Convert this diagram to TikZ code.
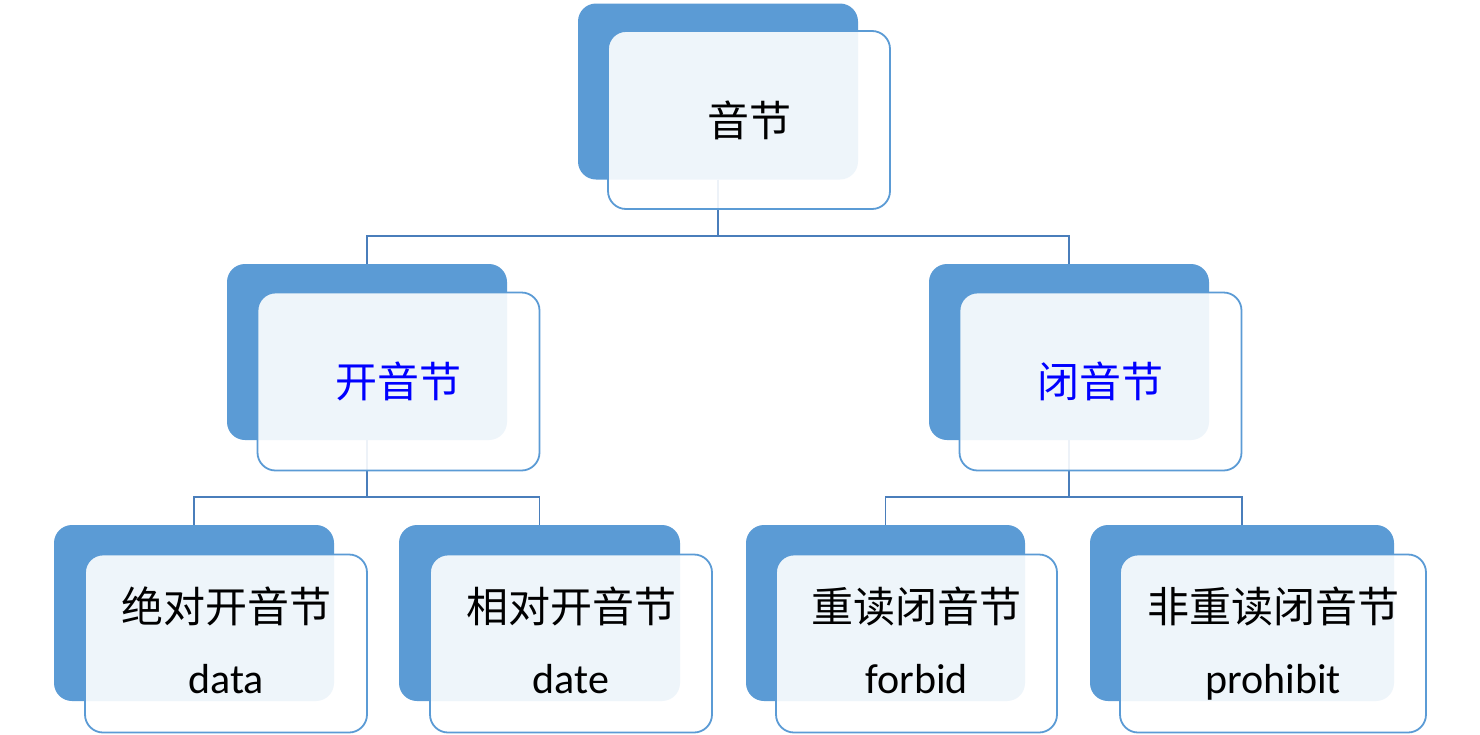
\documentclass[tikz,border=0pt]{standalone}
\usepackage{fontspec}
\setmainfont{Carlito}
\newfontfamily\cjk{Noto Sans CJK SC}
\definecolor{darkfill}{RGB}{91,155,213}
\definecolor{boxedge}{RGB}{91,155,213}
\definecolor{connc}{RGB}{74,126,187}
\definecolor{txtblue}{RGB}{0,0,255}
\tikzset{
  darkbox/.style={rectangle, rounded corners=18pt, fill=darkfill, draw=none,
    minimum width=280pt, minimum height=176pt, inner sep=0pt},
  lightbox/.style={rectangle, rounded corners=18pt, fill=white, fill opacity=0.9,
    text opacity=1, draw=boxedge, line width=1.8pt, draw opacity=1,
    minimum width=282pt, minimum height=178pt, inner sep=0pt, align=center,
    font=\fontsize{42}{71}\selectfont},
  conn/.style={draw=connc, line width=1.8pt}
}
\begin{document}
\begin{tikzpicture}[x=1pt,y=-1pt]
\useasboundingbox[fill=white] (0,0) rectangle (1480,734);
% dark boxes
\node[darkbox] (top-d) at (718,91.5) {};
\node[darkbox] (l-d) at (367,352) {};
\node[darkbox] (r-d) at (1069,352) {};
\node[darkbox] (a-d) at (194,613) {};
\node[darkbox, minimum width=281pt] (b-d) at (539.5,613) {};
\node[darkbox, minimum width=279pt] (c-d) at (885.5,613) {};
\node[darkbox, minimum width=304pt] (e-d) at (1242,613) {};
% connectors
\draw[conn] (top-d.south) -- ++(0,56) -| (l-d.north);
\draw[conn] (top-d.south) -- ++(0,56) -| (r-d.north);
\draw[conn] (l-d.south) -- ++(0,57) -| (a-d.north);
\draw[conn] (l-d.south) -- ++(0,57) -| (b-d.north);
\draw[conn] (r-d.south) -- ++(0,57) -| (c-d.north);
\draw[conn] (r-d.south) -- ++(0,57) -| (e-d.north);
% light boxes
\node[lightbox] (top) at (749,120) {\cjk 音节};
\node[lightbox, text=txtblue] (l) at (398.5,381.5) {\cjk 开音节};
\node[lightbox, text=txtblue] (r) at (1100.5,381.5) {\cjk 闭音节};
\node[lightbox] (a) at (226,643.5) {{\cjk 绝对开音节}\\data\vphantom{p}};
\node[lightbox] (b) at (571,643.5) {{\cjk 相对开音节}\\date\vphantom{p}};
\node[lightbox, minimum width=281pt] (c) at (916.5,643.5) {{\cjk 重读闭音节}\\forbid\vphantom{p}};
\node[lightbox, minimum width=306pt] (e) at (1273,643.5) {{\cjk 非重读闭音节}\\prohibit};
\end{tikzpicture}
\end{document}
